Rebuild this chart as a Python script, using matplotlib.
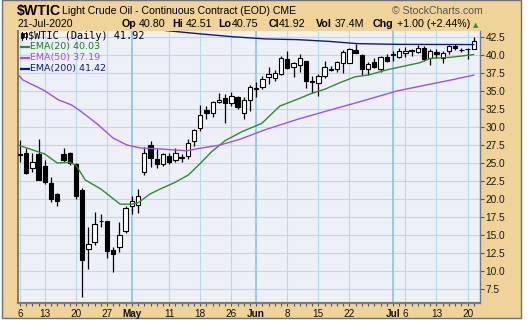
import numpy as np
import matplotlib
matplotlib.use('Agg')
from matplotlib import pyplot as plt
from matplotlib.patches import Rectangle

# Daily OHLC, 6-Apr-2020 .. 21-Jul-2020 (trading days only)
dates = ['Apr 6', 'Apr 7', 'Apr 8', 'Apr 9', 'Apr 13', 'Apr 14', 'Apr 15', 'Apr 16', 'Apr 17',
         'Apr 20', 'Apr 21', 'Apr 22', 'Apr 23', 'Apr 24', 'Apr 27', 'Apr 28', 'Apr 29', 'Apr 30',
         'May 1', 'May 4', 'May 5', 'May 6', 'May 7', 'May 8', 'May 11', 'May 12', 'May 13',
         'May 14', 'May 15', 'May 18', 'May 19', 'May 20', 'May 21', 'May 22', 'May 26', 'May 27',
         'May 28', 'May 29', 'Jun 1', 'Jun 2', 'Jun 3', 'Jun 4', 'Jun 5', 'Jun 8', 'Jun 9',
         'Jun 10', 'Jun 11', 'Jun 12', 'Jun 15', 'Jun 16', 'Jun 17', 'Jun 18', 'Jun 19', 'Jun 22',
         'Jun 23', 'Jun 24', 'Jun 25', 'Jun 26', 'Jun 29', 'Jun 30', 'Jul 1', 'Jul 2', 'Jul 6',
         'Jul 7', 'Jul 8', 'Jul 9', 'Jul 10', 'Jul 13', 'Jul 14', 'Jul 15', 'Jul 16', 'Jul 17',
         'Jul 20', 'Jul 21']
opens = [26.3, 26.4, 24.3, 26.3, 24.6, 22.3, 20.7, 26.2, 26.4,
         24.8, 21.3, 13.1, 14.1, 16.9, 16.9, 12.9, 13.4, 15.6,
         19.1, 19.2, 23.7, 27.5, 25.5, 24.85, 25.95, 25.4, 25.9,
         26.0, 28.05, 29.8, 32.35, 31.9, 33.5, 33.95, 33.3, 34.1,
         32.0, 33.75, 35.4, 35.6, 36.95, 36.75, 37.35, 39.4, 38.25,
         38.6, 39.15, 36.3, 36.05, 37.05, 38.05, 38.0, 38.8, 38.9,
         40.65, 40.0, 38.0, 39.05, 38.0, 39.65, 40.0, 39.75, 40.3,
         40.6, 40.4, 41.0, 39.5, 40.4, 39.5, 40.5, 41.25, 40.65,
         40.75, 40.80]
highs = [28.2, 27.1, 26.4, 28.3, 25.4, 23.1, 20.9, 27.1, 26.5,
         25.0, 21.5, 16.1, 18.25, 17.9, 17.0, 13.4, 16.8, 19.1,
         20.4, 21.4, 27.2, 28.1, 27.0, 26.35, 26.35, 27.1, 26.25,
         28.3, 29.75, 33.1, 32.9, 33.6, 34.75, 34.55, 34.8, 34.3,
         34.1, 35.85, 36.25, 37.1, 38.25, 37.9, 39.85, 40.55, 39.05,
         40.1, 39.2, 37.05, 37.3, 39.15, 38.45, 39.15, 40.65, 40.9,
         41.55, 40.05, 39.05, 39.5, 39.8, 40.1, 40.5, 40.95, 41.1,
         40.85, 41.3, 41.2, 40.75, 40.8, 40.5, 41.35, 41.5, 40.95,
         41.0, 42.51]
lows = [25.2, 23.5, 23.7, 22.6, 22.1, 19.65, 19.05, 25.2, 24.7,
        20.0, 6.5, 10.3, 13.65, 16.1, 11.8, 9.95, 12.6, 15.3,
        17.95, 18.1, 23.4, 24.5, 24.35, 24.6, 24.9, 25.2, 25.2,
        25.5, 27.4, 29.4, 31.05, 31.4, 33.3, 30.6, 32.95, 32.5,
        31.15, 32.25, 34.2, 35.2, 35.95, 36.4, 37.25, 38.0, 36.95,
        37.65, 35.35, 34.75, 34.3, 36.75, 37.8, 37.65, 37.5, 38.85,
        40.2, 37.2, 37.2, 38.2, 37.65, 39.05, 39.2, 39.5, 39.75,
        39.9, 40.2, 39.1, 38.6, 39.5, 38.9, 40.05, 40.65, 40.4,
        39.4, 40.75]
closes = [26.1, 23.6, 25.1, 22.7, 22.4, 20.0, 19.8, 25.4, 25.0,
          20.4, 11.6, 13.8, 16.5, 16.95, 12.8, 12.35, 15.05, 18.8,
          19.75, 20.4, 26.4, 25.7, 24.8, 26.2, 25.1, 26.35, 25.7,
          27.8, 29.6, 31.65, 31.9, 33.4, 33.8, 33.3, 34.3, 32.7,
          33.75, 35.5, 35.3, 36.7, 37.3, 37.5, 39.5, 38.15, 38.9,
          39.5, 36.35, 36.25, 37.05, 38.35, 37.95, 39.05, 40.35, 40.75,
          40.3, 38.0, 38.7, 38.35, 39.65, 39.15, 40.1, 40.55, 40.55,
          40.55, 40.9, 39.4, 40.5, 40.05, 40.2, 41.2, 40.9, 40.6,
          40.8, 41.92]

# Moving averages, sampled at trading-day index
ema20_day = [-0.4, 0, 4, 6, 8, 9, 10.5, 13, 14.2, 16.1, 18, 19, 20.9, 22.8, 24.9, 27.1, 29,
             30.8, 33, 35.7, 38.9, 41.8, 44.8, 46.9, 49.1, 51.5, 53.9, 56, 59.2, 64.3, 66,
             69.2, 73]
ema20_val = [27.6, 27.4, 26.25, 25.0, 25.1, 24.7, 22.65, 21.4, 20.6, 19.3, 19.3, 19.5, 20.7,
             21.5, 22.3, 23.35, 24.95, 26.55, 28.1, 29.35, 30.5, 32.9, 33.9, 34.65, 35.25,
             36.15, 36.95, 37.2, 37.95, 38.9, 39.5, 39.65, 40.03]
ema50_day = [-0.4, 0.5, 3.8, 6.2, 8.3, 9.9, 12.3, 15, 17.2, 19.3, 22.5, 26.8, 29, 32.2, 35.4,
             39.4, 44.6, 49.9, 55.3, 60.7, 66.1, 69.3, 73]
ema50_val = [37.3, 36.5, 35.1, 33.75, 33.05, 32.1, 30.5, 28.45, 27.5, 27.1, 26.95, 26.7, 27.05,
             27.5, 28.3, 29.6, 31.05, 32.35, 33.65, 35.0, 35.95, 36.5, 37.19]
ema200_day = [20.9, 23, 29, 34.3, 39.6, 44.7, 49.9, 54.2, 60.6, 73]
ema200_val = [43.9, 43.4, 42.9, 42.5, 42.2, 42.1, 41.85, 41.55, 41.45, 41.42]

# Date axis labels (trading-day index, text, month start?)
tick_day = [0, 4, 9, 14, 18, 24, 29, 34, 38, 43, 48, 53, 60, 62, 67, 72]
tick_text = ['6', '13', '20', '27', 'May', '11', '18', '26', 'Jun', '8', '15', '22', 'Jul', '6',
             '13', '20']
month_start = [18, 38, 60]
price_ticks = [7.5, 10.0, 12.5, 15.0, 17.5, 20.0, 22.5, 25.0, 27.5, 30.0, 32.5, 35.0, 37.5,
               40.0, 42.5]

W, H = 529, 322
TAN = '#f0d398'
PLOT_BG = '#eef0f8'
GRID = '#b4dcec'
MONTH_GRID = '#8cc8ea'


def px(x, y):
    return x / W, 1 - y / H


fig = plt.figure(figsize=(W / 100, H / 100), dpi=100, facecolor='white')
fig.patches.append(Rectangle(px(1.5, 317.5), 519 / W, 318 / H, transform=fig.transFigure,
                             facecolor=TAN, edgecolor='#707070', lw=1.0, zorder=-10))

left, right, top, bottom = 17.5, 480, 31, 303
ax = fig.add_axes([left / W, 1 - bottom / H, (right - left) / W, (bottom - top) / H])
ax.set_facecolor(PLOT_BG)
ax.set_xlim(-0.4, 74.0)
ax.set_ylim(5.6, 43.3)

for y in price_ticks:
    ax.axhline(y, color=GRID, lw=0.8, zorder=0)
for d in tick_day:
    if d in month_start:
        ax.axvline(d, color=MONTH_GRID, lw=1.3, zorder=0)
    else:
        ax.axvline(d, color=GRID, lw=0.8, zorder=0)

x = np.arange(len(dates))
o = np.array(opens)
c = np.array(closes)
ax.vlines(x, lows, highs, color='black', lw=0.9, zorder=2)
up = c >= o
body_low = np.minimum(o, c)
body_h = np.maximum(np.abs(c - o), 0.1)
ax.bar(x[up], body_h[up], bottom=body_low[up], width=0.7, color='white',
       edgecolor='black', lw=0.8, zorder=3)
ax.bar(x[~up], body_h[~up], bottom=body_low[~up], width=0.7, color='black',
       edgecolor='black', lw=0.8, zorder=3)

ax.plot(ema20_day, ema20_val, color='#2e8b2e', lw=1.0, zorder=4)
ax.plot(ema50_day, ema50_val, color='#9d4ff0', lw=1.0, zorder=4)
ax.plot(ema200_day, ema200_val, color='#0a1a8a', lw=1.0, zorder=4)

for s in ['left', 'bottom', 'right', 'top']:
    ax.spines[s].set_color('#7a7a7a')
ax.spines['bottom'].set_linewidth(1.6)
ax.spines['left'].set_linewidth(1.4)
ax.spines['top'].set_visible(False)
ax.spines['right'].set_linewidth(1.0)

ax.yaxis.tick_right()
ax.set_yticks(price_ticks)
ax.set_yticklabels(['%.1f' % v for v in price_ticks], fontsize=7.3, family='Liberation Sans',
                   color='#1a1a1a')
ax.tick_params(axis='y', length=3, width=0.8, color='#555555', pad=1)
ax.set_xticks(tick_day)
ax.set_xticklabels(tick_text, fontsize=7.2, family='Liberation Sans', color='#111111')
for lab, t in zip(ax.get_xticklabels(), tick_text):
    if t in ('May', 'Jun', 'Jul'):
        lab.set_fontweight('bold')
ax.set_xticks(x, minor=True)
ax.tick_params(axis='x', which='both', length=2, width=0.8, color='#555555', pad=2)

# header
fig.text(*px(17, 15), '$WTIC', fontsize=10.2, fontweight='bold', family='Liberation Sans')
fig.text(*px(61.5, 14), 'Light Crude Oil - Continuous Contract (EOD) CME', fontsize=7.6,
         family='Liberation Sans')
fig.text(*px(392, 14), '\u00a9 StockCharts.com', fontsize=7.6, family='Liberation Sans',
         color='#555555')
fig.text(*px(17, 27), '21-Jul-2020', fontsize=7.6, family='Liberation Sans')
header = [(121.7, 'Op', '40.80'), (172.3, 'Hi', '42.51'), (218.3, 'Lo', '40.75'),
          (269, 'Cl', '41.92'), (315.7, 'Vol', '37.4M'), (372.3, 'Chg', '+1.00 (+2.44%)')]
val_x = [139.3, 185.7, 232.3, 279, 334.7, 396.7]
for (hx, name, val), vx in zip(header, val_x):
    fig.text(*px(hx, 27), name, fontsize=7.7, fontweight='bold', family='Liberation Sans')
    fig.text(*px(vx, 27), val, fontsize=7.7, family='Liberation Sans')
fig.text(*px(476, 27), '\u25b2', fontsize=5, color='#2a9a2a', ha='center',
         family='DejaVu Sans')

# legend block inside the chart
fig.text(*px(28.5, 35.7), '$WTIC (Daily) 41.92', fontsize=7.4, color='black',
         family='DejaVu Sans Mono', va='center')
legend_rows = [('EMA(20) 40.03', '#1f7a1f', '#2e8b2e'),
               ('EMA(50) 37.19', '#9d4ff0', '#9d4ff0'),
               ('EMA(200) 41.42', '#0a1a8a', '#0a1a8a')]
row_y = [46.5, 57.8, 69.0]
for (txt, tc, lc), ry in zip(legend_rows, row_y):
    fig.text(*px(29.5, ry), txt, fontsize=6.8, color=tc, family='DejaVu Sans', va='center')
    fig.add_artist(plt.Line2D([20.5 / W, 29 / W], [1 - ry / H, 1 - ry / H], color=lc,
                              lw=1.6, transform=fig.transFigure))
# tiny candle icon next to the price row
for ix, (b0, b1), (w0, w1), fc in [(22.0, (33.0, 37.5), (31.5, 39.5), 'black'),
                                   (25.5, (33.5, 37.0), (32.0, 39.0), 'white')]:
    fig.add_artist(plt.Line2D([ix / W, ix / W], [1 - w0 / H, 1 - w1 / H], color='black',
                              lw=0.7, transform=fig.transFigure))
    fig.patches.append(Rectangle(px(ix - 1.2, b1), 2.4 / W, (b1 - b0) / H,
                                 transform=fig.transFigure, facecolor=fc,
                                 edgecolor='black', lw=0.6))

fig.savefig('out.png', dpi=100, facecolor='white')
